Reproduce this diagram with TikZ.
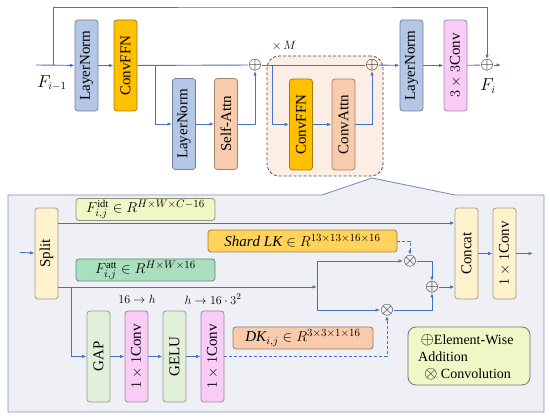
\documentclass[tikz,border=0pt]{standalone}
\usepackage{fontspec}
\setmainfont{Liberation Serif}
\usepackage{graphicx}
\usetikzlibrary{arrows.meta,positioning}

\definecolor{lineC}{HTML}{4472C4}
\definecolor{normC}{HTML}{B4C7E7}
\definecolor{ffnC}{HTML}{FFC000}
\definecolor{attnC}{HTML}{F8CBAD}
\definecolor{convC}{HTML}{F9CCF5}
\definecolor{splitC}{HTML}{FFF2CC}
\definecolor{gapC}{HTML}{E2F0D9}
\definecolor{idtC}{HTML}{F1F6C6}
\definecolor{lkC}{HTML}{FFD35C}
\definecolor{attC}{HTML}{A9DFBF}
\definecolor{panelC}{HTML}{EEF0F6}
\definecolor{panelD}{HTML}{7F92B4}
\definecolor{repC}{HTML}{FCEEE4}

\newcommand{\legsym}[1]{{\fontsize{16}{17}\selectfont$#1$}}

\begin{document}
\begin{tikzpicture}[x=1pt,y=-1pt,
  font=\fontsize{15}{18}\selectfont,
  vbox/.style={draw=#1!65!black, fill=#1, rounded corners=3pt, minimum width=23pt,
    minimum height=91pt, inner sep=0pt, line width=0.8pt},
  hbox/.style={draw=#1!60!black, fill=#1, rounded corners=3pt, minimum height=22pt,
    inner sep=0pt, line width=0.8pt},
  op/.style={inner sep=0pt, font=\fontsize{16}{16}\selectfont},
  wire/.style={lineC, line width=0.9pt},
  flow/.style={wire, -{Latex[length=4.5pt,width=3.5pt]}},
  dflow/.style={flow, densely dashed}
]
  \useasboundingbox (0,0) rectangle (550,419);

  % ---- upper branch ----
  \coordinate (in) at (36,65);
  \coordinate (skip) at (53,65);
  \coordinate (br1) at (155,65);
  \coordinate (br2) at (272,65);
  \coordinate (out) at (501,65);

  \node[draw=black!70, densely dashed, fill=repC, rounded corners=12pt, line width=0.8pt,
    minimum width=116pt, minimum height=120pt] (rep) at (325,116) {};
  \node[font=\fontsize{12}{12}\selectfont] (times) at (284,46) {$\times\,M$};

  \node[vbox=normC] (ln1) at (86.5,65.5) {\rotatebox{90}{LayerNorm}};
  \node[vbox=ffnC] (ffn1) at (125.5,65.5) {\rotatebox{90}{ConvFFN}};
  \node[vbox=normC] (ln2) at (184,124) {\rotatebox{90}{LayerNorm}};
  \node[vbox=attnC] (sa) at (226,124) {\rotatebox{90}{Self-Attn}};
  \node[vbox=ffnC] (ffn2) at (301,124.5) {\rotatebox{90}{ConvFFN}};
  \node[vbox=attnC] (ca) at (343.5,124.5) {\rotatebox{90}{ConvAttn}};
  \node[vbox=normC] (ln3) at (411.5,65.5) {\rotatebox{90}{LayerNorm}};
  \node[vbox=convC] (c33) at (455.5,65.5) {\rotatebox{90}{$3\times3$Conv}};

  \node[op] (add1) at (255,65) {$\oplus$};
  \node[op] (add2) at (372,65) {$\oplus$};
  \node[op] (add3) at (487,65) {$\oplus$};

  \node[font=\fontsize{16}{16}\selectfont] (fin) at (52,83) {$F_{i-1}$};
  \node[font=\fontsize{16}{16}\selectfont] (fout) at (488,86) {$F_{i}$};

  \draw[flow] (in) -- (ln1);
  \draw[flow] (ln1) -- (ffn1);
  \draw[wire] (ffn1) -- (add1);
  \draw[flow] (br1) |- (ln2);
  \draw[flow] (ln2) -- (sa);
  \draw[flow] (sa) -| (add1);
  \draw[wire] (add1) -- (add2);
  \draw[flow] (br2) |- (ffn2);
  \draw[flow] (ffn2) -- (ca);
  \draw[flow] (ca) -| (add2);
  \draw[flow] (add2) -- (ln3);
  \draw[flow] (ln3) -- (c33);
  \draw[wire] (c33) -- (add3);
  \draw[flow] (add3) -- (out);
  \draw[flow] (skip) |- (300,7) -| (add3);

  % ---- detail panel ----
  \draw[panelD, fill=panelC, line width=0.9pt] (8,195) -- (322,195) -- (372,178)
    -- (455,195) -- (544,195) -- (544,412) -- (8,412) -- cycle;

  \coordinate (pin) at (20,252.5);
  \coordinate (jn) at (317,287);
  \coordinate (jt) at (317,261);
  \coordinate (jb) at (317,310);
  \coordinate (br3) at (71,287);
  \coordinate (pout) at (533,253.5);

  \node[vbox=splitC] (split) at (46.5,253.5) {\rotatebox{90}{Split}};
  \node[vbox=splitC] (concat) at (466.5,253.5) {\rotatebox{90}{Concat}};
  \node[vbox=splitC] (c11r) at (504.5,253.5) {\rotatebox{90}{$1\times1$Conv}};

  \node[hbox=idtC, minimum width=139pt] (idt) at (145.5,209.5)
    {$F_{i,j}^{\mathrm{idt}}\in R^{H\times W\times C-16}$};
  \node[hbox=lkC, minimum width=189pt] (lk) at (302.5,241)
    {$\mathit{Shard\ LK}\in R^{13\times13\times16\times16}$};
  \node[hbox=attC, minimum width=139pt] (att) at (145.5,270)
    {$F_{i,j}^{\mathrm{att}}\in R^{H\times W\times16}$};
  \node[hbox=attnC, minimum width=140pt] (dk) at (303,338)
    {$\mathit{DK}_{i,j}\in R^{3\times3\times1\times16}$};

  \node[vbox=gapC] (gap) at (98.5,356.5) {\rotatebox{90}{GAP}};
  \node[vbox=convC] (c11a) at (136.5,356.5) {\rotatebox{90}{$1\times1$Conv}};
  \node[vbox=gapC] (gelu) at (174.5,356.5) {\rotatebox{90}{GELU}};
  \node[vbox=convC] (c11b) at (212.5,356.5) {\rotatebox{90}{$1\times1$Conv}};

  \node[font=\fontsize{13}{13}\selectfont] (lbl1) at (137,299) {$16\rightarrow h$};
  \node[font=\fontsize{13}{13}\selectfont] (lbl2) at (213,299) {$h\rightarrow 16\cdot 3^2$};

  \node[op] (mul1) at (410,261) {$\otimes$};
  \node[op] (mul2) at (387,310) {$\otimes$};
  \node[op] (add4) at (432,287) {$\oplus$};

  \node[draw=black!55, fill=idtC, rounded corners=8pt, line width=0.8pt,
    minimum width=122pt, minimum height=58pt] (legend) at (469,356) {};
  \node[anchor=west, align=left, inner sep=0pt, font=\fontsize{14}{17}\selectfont]
    (legtxt) at (418,357)
    {\,\legsym{\oplus}Element-Wise\\Addition\\\ \,\legsym{\otimes} Convolution};

  \draw[flow] (pin) -- (split);
  \draw[flow] (split.east |- 0,223) -- (concat.west |- 0,223);
  \draw[flow] (split.east |- jn) -- (jn);
  \draw[wire] (jt) -- (jb);
  \draw[flow] (jt) -- (mul1);
  \draw[flow] (jb) -- (mul2);
  \draw[dflow] (lk.east) -| (mul1);
  \draw[flow] (mul1) -| (add4);
  \draw[flow] (mul2) -| (add4);
  \draw[flow] (add4) -- (concat.west |- add4);
  \draw[flow] (concat) -- (c11r);
  \draw[flow] (c11r) -- (pout);
  \draw[flow] (br3) |- (gap);
  \draw[flow] (gap) -- (c11a);
  \draw[flow] (c11a) -- (gelu);
  \draw[flow] (gelu) -- (c11b);
  \draw[dflow] (c11b) -| (mul2);
\end{tikzpicture}
\end{document}
